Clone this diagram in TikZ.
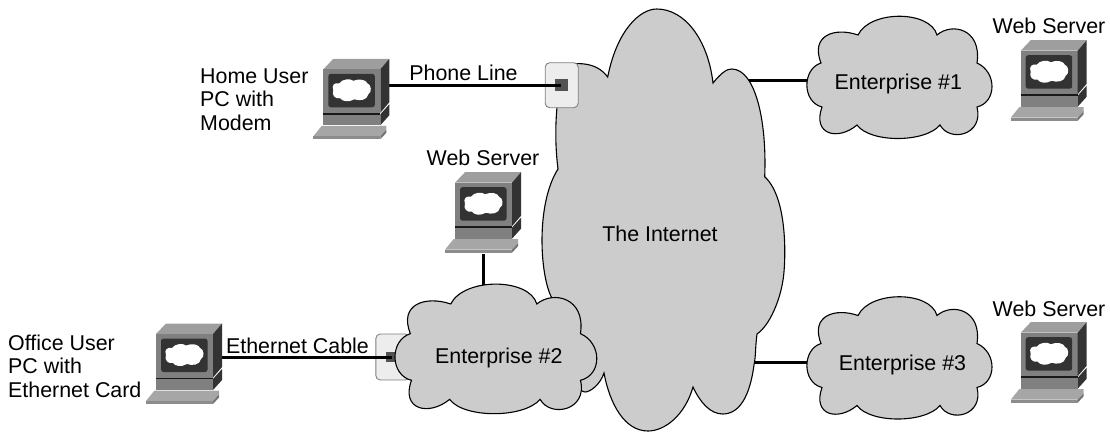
\documentclass[tikz,border=0pt]{standalone}
\usepackage{fontspec}
\setmainfont{Liberation Sans}
\definecolor{cloudgray}{gray}{0.8}
\definecolor{boxgray}{gray}{0.93}
\tikzset{
  x=1pt,y=-1pt,
  lbl/.style={font=\fontsize{21.4}{23.6}\selectfont,inner sep=0pt,text=black},
  lblleft/.style={lbl,align=left,anchor=west},
  cloudline/.style={draw=black,line width=1.1pt,fill=cloudgray},
  wire/.style={draw=black,line width=2.6pt},
  port/.style={fill=black!68},
  jack/.style={draw=black!50,line width=0.9pt,fill=boxgray,rounded corners=4.5pt},
  pcanchor/.style={inner sep=0pt,minimum width=67pt,minimum height=80pt,anchor=north west},
  pics/pc/.style={code={
    \fill[black!38] (0,0) -- (10,-10.5) -- (66,-10.5) -- (57,0) -- cycle;
    \fill[black!50] (0,0) rectangle (57,43.5);
    \fill[black!80] (57,0) -- (66,-10.5) -- (66,33) -- (57,43.5) -- cycle;
    \fill[black!80,rounded corners=2.5pt] (5,4.5) rectangle (51.5,38);
    \fill[white] (10,21)
      .. controls (8,16) and (11,13) .. (16,14)
      .. controls (19,9.5) and (27,9) .. (30,11.5)
      .. controls (36,9) and (43,10.5) .. (44,14)
      .. controls (48,15) and (49,23) .. (45,25)
      .. controls (44,31) and (36,32) .. (31,30)
      .. controls (25,33.5) and (19,32) .. (17,29)
      .. controls (12,30) and (8,26) .. (10,21) -- cycle;
    \fill[black!80] (57,45) -- (66,35) -- (66,46) -- (57,56) -- cycle;
    \fill[black!50] (0,45) rectangle (57,56);
    \fill[black!90] (0,43.5) rectangle (57,45.3);
    \fill[black!35] (-10,67) -- (-1.5,56.5) -- (63,56.5) -- (63,60.5) -- (57,67) -- cycle;
    \fill[black!55] (57,67) -- (63,60.5) -- (63,63.5) -- (57,70) -- cycle;
    \fill[black!45] (-10,67) rectangle (57,70);
  }},
  pics/cloudshape/.style={code={
    \path[cloudline] (-79,-14)
      .. controls (-90,-42) and (-65,-50) .. (-42,-42)
      .. controls (-30,-67) and (30,-67) .. (37,-42)
      .. controls (52,-55) and (82,-48) .. (77,-14)
      .. controls (97,-5) and (97,25) .. (77,30)
      .. controls (84,58) and (50,66) .. (40,48)
      .. controls (25,66) and (-30,66) .. (-43,48)
      .. controls (-62,64) and (-88,58) .. (-78,30)
      .. controls (-98,25) and (-98,-8) .. (-79,-14) -- cycle;
  }}
}
\begin{document}
\begin{tikzpicture}
\useasboundingbox (0,0) rectangle (1110,431);
\node[pcanchor] (pchome) at (323.3,58.8) {};
\node[pcanchor] (pcoffice) at (156,323.5) {};
\node[pcanchor] (srvmid) at (455,172.2) {};
\coordinate (ent1port) at (815,80.3);
\coordinate (ent3port) at (815,362.7);
\coordinate (net1port) at (745,80.3);
\coordinate (net3port) at (750,362.7);
\coordinate (ent2top) at (483.3,288);
\coordinate (srvbottom) at (483.3,254);
\coordinate (homeport) at (385,85.3);
\coordinate (officeport) at (218,357.7);
\coordinate (jack1port) at (561,85.3);
\coordinate (jack2port) at (392,357.7);
\draw[wire] (net1port) -- (ent1port);
\draw[wire] (net3port) -- (ent3port);
\draw[wire] (srvbottom) -- (ent2top);
\path[cloudline] (607.7,77)
  .. controls (617,30) and (640,9) .. (656.7,9)
  .. controls (685,9) and (708,40) .. (713,83)
  .. controls (722,72) and (727,69) .. (731.7,69)
  .. controls (755,69) and (767,120) .. (764.7,176.7)
  .. controls (790,200) and (785,270) .. (783,280)
  .. controls (780,300) and (770,325) .. (757,334)
  .. controls (755,350) and (756,355) .. (754,365)
  .. controls (750,395) and (740,414) .. (722.7,414)
  .. controls (710,414) and (700,402) .. (693,387)
  .. controls (685,415) and (665,431) .. (648,431)
  .. controls (625,431) and (610,405) .. (604,373)
  .. controls (600,385) and (590,392) .. (585,392)
  .. controls (570,390) and (555,340) .. (553,300)
  .. controls (540,280) and (535,205) .. (558,169)
  .. controls (553,130) and (557,90) .. (565,64)
  .. controls (575,64) and (595,60) .. (607.7,77) -- cycle;
\node[jack,minimum width=33pt,minimum height=45pt,inner sep=0pt] (jackhome) at (561.7,85.2) {};
\fill[port] (555,79) rectangle (568.3,91);
\draw[wire] (homeport) -- (jack1port);
\node[jack,minimum width=34pt,minimum height=46pt,inner sep=0pt] (jackoffice) at (392.8,357) {};
\fill[port] (386,351.7) rectangle (398,362.3);
\draw[wire] (officeport) -- (jack2port);
\pic[xscale=1.09,yscale=1.06] at (496.5,348.5) {cloudshape};
\pic at (900,77) {cloudshape};
\pic at (900,357.5) {cloudshape};
\pic at (323.3,69.3) {pc};
\pic at (156,334) {pc};
\pic at (455,182.7) {pc};
\pic at (1020.7,50.7) {pc};
\pic at (1020.7,332.7) {pc};
\node[lblleft] (homelbl) at (200,99.5) {Home User\\PC with\\Modem};
\node[lblleft] (officelbl) at (8,366) {Office User\\PC with\\Ethernet Card};
\node[lbl] (phonelbl) at (463.5,73.3) {Phone Line};
\node[lbl] (ethlbl) at (297.5,345.5) {Ethernet Cable};
\node[lbl] (srvlbla) at (483,157.5) {Web Server};
\node[lbl] (srvlblb) at (1049,25.5) {Web Server};
\node[lbl] (srvlblc) at (1049,309) {Web Server};
\node[lbl] (netlbl) at (660,234) {The Internet};
\node[lbl] (ent1lbl) at (898.3,84) {Enterprise \#1};
\node[lbl] (ent2lbl) at (498.8,357.5) {Enterprise \#2};
\node[lbl] (ent3lbl) at (902.5,364.5) {Enterprise \#3};
\end{tikzpicture}
\end{document}
